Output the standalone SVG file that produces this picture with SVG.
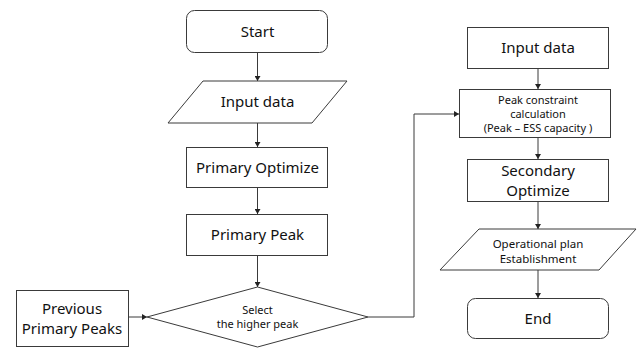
<svg xmlns="http://www.w3.org/2000/svg" width="637" height="348" viewBox="0 0 637 348">
<style>
.s{fill:#fff;stroke:#3a3a3a;stroke-width:1}
.c{fill:none;stroke:#3a3a3a;stroke-width:1}
.t{font-family:"Noto Sans","Open Sans",sans-serif;fill:#111;text-anchor:middle}
.b{font-size:15px}
.m{font-size:11px}
.n{font-size:11.5px}
</style>
<defs>
<marker id="a" markerWidth="6" markerHeight="6" refX="5" refY="3" orient="auto" markerUnits="userSpaceOnUse">
<path d="M0,0 L5,3 L0,6 Z" fill="#222"/>
</marker>
</defs>
<rect width="637" height="348" fill="#fff"/>
<g id="connectors">
<line class="c" x1="257.5" y1="52" x2="257.5" y2="81" marker-end="url(#a)"/>
<line class="c" x1="257.5" y1="123" x2="257.5" y2="147" marker-end="url(#a)"/>
<line class="c" x1="257.5" y1="187" x2="257.5" y2="214" marker-end="url(#a)"/>
<line class="c" x1="257.5" y1="255" x2="257.5" y2="287" marker-end="url(#a)"/>
<line class="c" x1="128" y1="317" x2="147" y2="317" marker-end="url(#a)"/>
<polyline class="c" points="368,317 414,317 414,114 459,114" marker-end="url(#a)"/>
<line class="c" x1="538" y1="68" x2="538" y2="89" marker-end="url(#a)"/>
<line class="c" x1="538" y1="137" x2="538" y2="159" marker-end="url(#a)"/>
<line class="c" x1="538" y1="201" x2="538" y2="229" marker-end="url(#a)"/>
<line class="c" x1="538" y1="270" x2="538" y2="298" marker-end="url(#a)"/>
</g>
<g id="start">
<rect class="s" x="186.5" y="10.5" width="141" height="42" rx="8"/>
<text class="t b" x="257.5" y="37">Start</text>
</g>
<g id="input1">
<polygon class="s" points="203,81 347,81 312,123 168,123"/>
<text class="t b" x="257.5" y="107">Input data</text>
</g>
<g id="primaryOptimize">
<rect class="s" x="186.5" y="147.5" width="141" height="40"/>
<text class="t b" x="257.5" y="173">Primary Optimize</text>
</g>
<g id="primaryPeak">
<rect class="s" x="186.5" y="214.5" width="141" height="41"/>
<text class="t b" x="257.5" y="240">Primary Peak</text>
</g>
<g id="previous">
<rect class="s" x="16.5" y="290.5" width="112" height="56"/>
<text class="t b" x="72" y="314">Previous</text>
<text class="t b" x="72" y="334">Primary Peaks</text>
</g>
<g id="select">
<polygon class="s" points="257.5,287 368,317 257.5,347 147,317"/>
<text class="t m" x="257.5" y="314">Select</text>
<text class="t m" x="257.5" y="328">the higher peak</text>
</g>
<g id="input2">
<rect class="s" x="467.5" y="27.5" width="141" height="41"/>
<text class="t b" x="538" y="53">Input data</text>
</g>
<g id="peakConstraint">
<rect class="s" x="459.5" y="89.5" width="151" height="48"/>
<text class="t m" x="538" y="104">Peak constraint</text>
<text class="t m" x="538" y="118">calculation</text>
<text class="t m" x="538" y="132">(Peak – ESS capacity )</text>
</g>
<g id="secondaryOptimize">
<rect class="s" x="467.5" y="159.5" width="141" height="42"/>
<text class="t b" x="538" y="176">Secondary</text>
<text class="t b" x="538" y="196">Optimize</text>
</g>
<g id="operational">
<polygon class="s" points="479,229 636,229 599,270 440,270"/>
<text class="t n" x="538" y="248">Operational plan</text>
<text class="t n" x="538" y="263">Establishment</text>
</g>
<g id="end">
<rect class="s" x="467.5" y="298.5" width="141" height="40" rx="8"/>
<text class="t b" x="538" y="324">End</text>
</g>
</svg>
